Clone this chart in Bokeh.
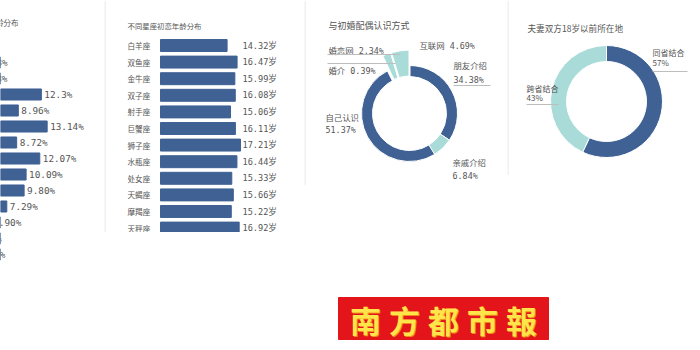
import numpy as np
from math import pi
from bokeh.plotting import figure
from bokeh.layouts import row, column
from bokeh.models import Range1d, Span, Label, ColumnDataSource
from bokeh.core.properties import value
from bokeh.embed import file_html
from bokeh.resources import INLINE

# ---------------- data ----------------
age_title = "初恋年龄分布"
age_values = [2.93, 2.88, 12.3, 8.96, 13.14, 8.72, 12.07, 10.09, 9.80, 7.29, 4.90, 2.03, 2.60]
age_labels = ["2.93%", "2.88%", "12.3%", "8.96%", "13.14%", "8.72%", "12.07%",
              "10.09%", "9.80%", "7.29%", "4.90%", "2.03%", "2.60%"]

zodiac_title = "不同星座初恋年龄分布"
zodiac = ["白羊座", "双鱼座", "金牛座", "双子座", "射手座", "巨蟹座",
          "狮子座", "水瓶座", "处女座", "天蝎座", "摩羯座", "天秤座"]
zodiac_age = [14.32, 16.47, 15.99, 16.08, 15.06, 16.11, 17.21, 16.44, 15.33, 15.66, 15.22, 16.92]
zodiac_labels = ["14.32岁", "16.47岁", "15.99岁", "16.08岁", "15.06岁", "16.11岁",
                 "17.21岁", "16.44岁", "15.33岁", "15.66岁", "15.22岁", "16.92岁"]

meet_title = "与初婚配偶认识方式"
meet_ways = ["朋友介绍", "亲戚介绍", "自己认识", "婚介", "婚恋网", "互联网"]
meet_pct = [34.38, 6.84, 51.37, 0.39, 2.34, 4.69]
meet_pct_labels = ["34.38%", "6.84%", "51.37%", "0.39%", "2.34%", "4.69%"]

origin_title = "夫妻双方18岁以前所在地"
origin_cats = ["同省结合", "跨省结合"]
origin_pct = [57, 43]
origin_pct_labels = ["57%", "43%"]

logo_text = "南方都市報"

# ---------------- style ----------------
DARK = "#3f6194"
LIGHT = "#a9dbd8"
TXT = "#555555"
SEP = "#e4e4e4"
LEAD = "#bdbdbd"
CJK_NAME = "Noto Sans CJK SC"
CJK = value(CJK_NAME)
MONO = value("DejaVu Sans Mono, Noto Sans CJK SC")


def panel(w, h, xr, yr):
    p = figure(width=w, height=h, x_range=Range1d(*xr), y_range=Range1d(*yr),
               output_backend="svg", toolbar_location=None,
               x_axis_location=None, y_axis_location=None, min_border=0)
    p.min_border_left = p.min_border_right = 0
    p.min_border_top = p.min_border_bottom = 0
    p.grid.visible = False
    p.outline_line_color = None
    p.background_fill_color = "white"
    p.border_fill_color = "white"
    return p


def px2x(xr, w, px):
    return xr[0] + px * (xr[1] - xr[0]) / w


def py2y(yr, h, py):
    return yr[1] + py * (yr[0] - yr[1]) / h


# ---------------- panel 1 (cut-off age distribution) ----------------
W1, H1 = 104, 262
s1 = 6.9
xr1 = (44 / s1, 44 / s1 + W1 / s1)
yr1 = ((H1 - 62) / 16, -62 / 16)
p1 = panel(W1, H1, xr1, yr1)
idx1 = list(range(len(age_values)))
src1 = ColumnDataSource(dict(y=idx1, v=age_values, lab=age_labels))
p1.hbar(y="y", left=0, right="v", height=0.69, source=src1, color=DARK)
p1.text(x="v", y="y", text="lab", source=src1, x_offset=3, text_baseline="middle",
        text_font=MONO, text_font_size="9.3px", text_color=TXT)
p1.add_layout(Label(x=px2x(xr1, W1, 18), y=py2y(yr1, H1, 22), text=age_title,
                    text_align="right", text_baseline="middle", text_font=CJK_NAME,
                    text_font_size="7.5px", text_color=TXT))

# ---------------- panel 2 (zodiac) ----------------
W2, H2 = 200, 232
s2 = 4.65
xr2 = (-56 / s2, -56 / s2 + W2 / s2)
yr2 = ((H2 - 45) / 16.6, -45 / 16.6)
p2 = panel(W2, H2, xr2, yr2)
idx2 = list(range(len(zodiac)))
src2 = ColumnDataSource(dict(y=idx2, v=zodiac_age, name=zodiac, lab=zodiac_labels,
                             nx=[px2x(xr2, W2, 23)] * len(zodiac),
                             lx=[px2x(xr2, W2, 138)] * len(zodiac)))
p2.hbar(y="y", left=0, right="v", height=0.72, source=src2, color=DARK)
p2.text(x="nx", y="y", text="name", source=src2, text_baseline="middle",
        text_font=CJK, text_font_size="7.6px", text_color=TXT)
p2.text(x="lx", y="y", text="lab", source=src2, text_baseline="middle",
        text_font=MONO, text_font_size="8.6px", text_color=TXT)
p2.add_layout(Label(x=px2x(xr2, W2, 23), y=py2y(yr2, H2, 25), text=zodiac_title,
                    text_baseline="middle", text_font=CJK_NAME, text_font_size="7.4px",
                    text_color=TXT))
p2.add_layout(Span(location=px2x(xr2, W2, 0.5), dimension="height",
                   line_color=SEP, line_width=1))

# ---------------- panel 3 (how met) ----------------
W3, H3 = 203, 185
xr3 = (-105, 98)
yr3 = (-72, 113)
p3 = panel(W3, H3, xr3, yr3)
frac = np.array(meet_pct) / sum(meet_pct)
cum = np.concatenate([[0], np.cumsum(frac)]) * 2 * pi
big = [v > 5 for v in meet_pct]
outer3 = [48 if b else 64 for b in big]
src3 = ColumnDataSource(dict(
    start=list(pi / 2 - cum[:-1]), end=list(pi / 2 - cum[1:]),
    outer=outer3, color=[DARK if v > 10 else LIGHT for v in meet_pct],
    lw=[1 if b else 2 for b in big]))
p3.annular_wedge(x=0, y=0, inner_radius=37, outer_radius="outer",
                 start_angle="start", end_angle="end", direction="clock",
                 fill_color="color", line_color="white", line_width="lw", source=src3)
lab3_pos = {
    "朋友介绍": ((44, 48), (44, 34)),
    "亲戚介绍": ((43, -49), (43, -62)),
    "自己认识": ((-84, -4), (-84, -16)),
}
one3_pos = {"婚介": (-81, 43), "婚恋网": (-81, 63), "互联网": (10, 68)}
tx, ty, tt = [], [], []
for name, pl in zip(meet_ways, meet_pct_labels):
    if name in lab3_pos:
        (a, b), (c, d) = lab3_pos[name]
        tx += [a, c]; ty += [b, d]; tt += [name, pl]
    else:
        a, b = one3_pos[name]
        tx.append(a); ty.append(b); tt.append(name + "  " + pl)
p3.text(x=tx, y=ty, text=tt, text_baseline="middle", text_font=MONO,
        text_font_size="8.4px", text_color=TXT)
p3.segment(x0=[44, -82, -82], y0=[28, 50, 59], x1=[81, -14, -9], y1=[28, 50, 59],
           line_color=LEAD, line_width=1)
p3.add_layout(Label(x=-81, y=88, text=meet_title, text_baseline="middle",
                    text_font=CJK_NAME, text_font_size="9px", text_color=TXT))
p3.add_layout(Span(location=px2x(xr3, W3, 0.5), dimension="height",
                   line_color=SEP, line_width=1))

# ---------------- panel 4 (origin) ----------------
W4, H4 = 193, 175
xr4 = (-99, 94)
yr4 = (-74, 101)
p4 = panel(W4, H4, xr4, yr4)
frac4 = np.array(origin_pct) / sum(origin_pct)
cum4 = np.concatenate([[0], np.cumsum(frac4)]) * 2 * pi
p4.annular_wedge(x=0, y=0, inner_radius=40, outer_radius=56,
                 start_angle=list(pi / 2 - cum4[:-1]), end_angle=list(pi / 2 - cum4[1:]),
                 direction="clock", fill_color=[DARK, LIGHT], line_color="white",
                 line_width=1)
lab4_pos = [((46, 49), (46, 39)), ((-80, 13), (-80, 4))]
tx4, ty4, tt4 = [], [], []
for name, pl, ((a, b), (c, d)) in zip(origin_cats, origin_pct_labels, lab4_pos):
    tx4 += [a, c]; ty4 += [b, d]; tt4 += [name, pl]
p4.text(x=tx4, y=ty4, text=tt4, text_baseline="middle", text_font=CJK,
        text_font_size="8px", text_color=TXT)
p4.segment(x0=[46, -80], y0=[30, -3], x1=[81, -48], y1=[30, -3],
           line_color=LEAD, line_width=1)
p4.add_layout(Label(x=-79, y=74, text=origin_title, text_baseline="middle",
                    text_font=CJK_NAME, text_font_size="8.6px", text_color=TXT))
p4.add_layout(Span(location=px2x(xr4, W4, 0.5), dimension="height",
                   line_color=SEP, line_width=1))

# ---------------- bottom (logo) ----------------
W5, H5 = 700, 88
p5 = panel(W5, H5, (-443, 257), (-32, 56))
p5.rect(x=0, y=0, width=210, height=42, fill_color="#e3151b", line_color="#e3151b")
chars = list(logo_text)
cx = [(i - (len(chars) - 1) / 2) * 39 for i in range(len(chars))]
p5.text(x=cx, y=[-1] * len(chars), text=chars, text_align="center",
        text_baseline="middle", text_font=CJK, text_font_style="bold",
        text_font_size="31px", text_color="#f08a1c", x_offset=1, y_offset=1)
p5.text(x=cx, y=[-1] * len(chars), text=chars, text_align="center",
        text_baseline="middle", text_font=CJK, text_font_style="bold",
        text_font_size="31px", text_color="#ffe44a")

layout = column(row(p1, p2, p3, p4, spacing=0), p5, spacing=0)
open("out.html", "w").write(file_html(layout, INLINE))
